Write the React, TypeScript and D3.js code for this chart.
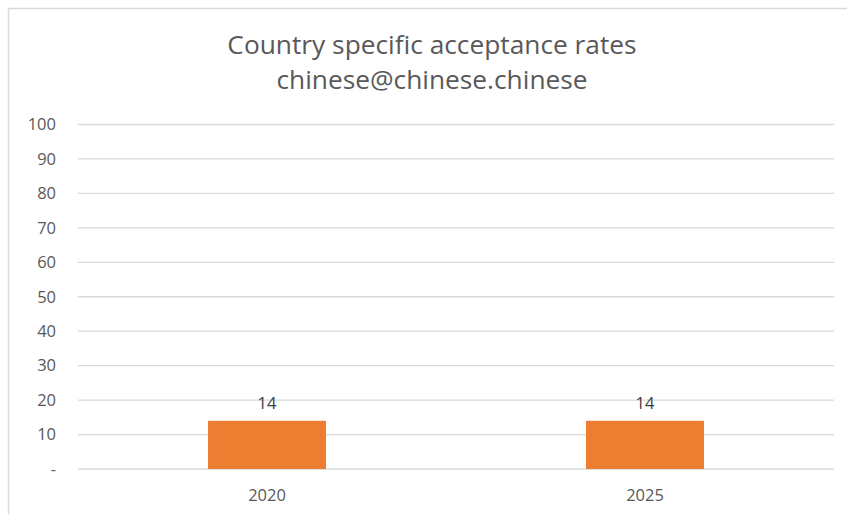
import React from "react";
import * as d3 from "d3";

const categories = ["2020", "2025"];
const values = [14, 14];
const yTicks = [0, 10, 20, 30, 40, 50, 60, 70, 80, 90, 100];
const titleLines = ["Country specific acceptance rates", "chinese@chinese.chinese"];

const W = 847;
const H = 514;
const FONT = "'Open Sans', 'Liberation Sans', sans-serif";

export default function App() {
  const x = d3.scaleBand<string>().domain(categories).range([78, 834]).padding(0);
  const y = d3.scaleLinear().domain([0, 100]).range([469, 124.5]);
  const barW = x.bandwidth() * 0.312;
  const fmt = (v: number) => (v === 0 ? "-" : String(v));
  return (
    <svg width={W} height={H} style={{ position: "absolute", left: 0, top: 0, background: "#fff" }}>
      <rect x={0} y={0} width={W} height={H} fill="#fff" />
      <path d={`M8.5,${H} V8.5 H${W}`} fill="none" stroke="#d9d9d9" strokeWidth={1.5} />
      {titleLines.map((t, i) => (
        <text key={i} x={432} y={45 + i * 35} dy="0.35em" textAnchor="middle" fontFamily={FONT} fontSize={26.3} fill="#595959">
          {t}
        </text>
      ))}
      {yTicks.map((t) => (
        <g key={t}>
          <line x1={78} x2={834} y1={y(t)} y2={y(t)} stroke="#d9d9d9" strokeWidth={1.3} />
          <text x={56} y={y(t)} dy="0.35em" textAnchor="end" fontFamily={FONT} fontSize={16.5} fill="#595959">
            {fmt(t)}
          </text>
        </g>
      ))}
      {categories.map((c, i) => {
        const cx = (x(c) ?? 0) + x.bandwidth() / 2;
        return (
          <g key={c}>
            <rect x={cx - barW / 2} y={y(values[i])} width={barW} height={y(0) - y(values[i])} fill="#ED7D31" />
            <text x={cx} y={y(values[i]) - 18} dy="0.35em" textAnchor="middle" fontFamily={FONT} fontSize={16.5} fill="#404040">
              {values[i]}
            </text>
            <text x={cx} y={495} dy="0.35em" textAnchor="middle" fontFamily={FONT} fontSize={16.5} fill="#595959">
              {c}
            </text>
          </g>
        );
      })}
    </svg>
  );
}
